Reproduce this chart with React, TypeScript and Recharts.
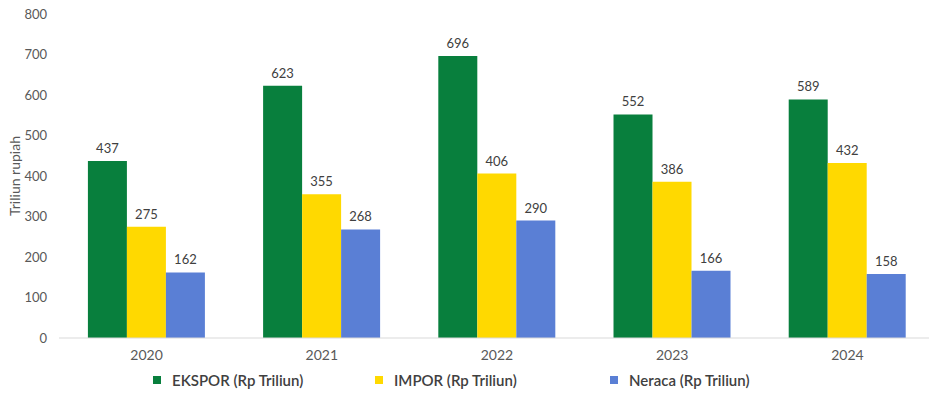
import { BarChart, Bar, XAxis, YAxis, Legend, LabelList } from 'recharts';

const years = ['2020', '2021', '2022', '2023', '2024'];
const ekspor = [437, 623, 696, 552, 589];
const impor = [275, 355, 406, 386, 432];
const neraca = [162, 268, 290, 166, 158];
const yTicks = [0, 100, 200, 300, 400, 500, 600, 700, 800];

const data = years.map((year, i) => ({
  year,
  ekspor: ekspor[i],
  impor: impor[i],
  neraca: neraca[i],
}));

const FONT = 'Lato, "Liberation Sans", sans-serif';

const legendPos: Record<string, number> = {
  'EKSPOR (Rp Triliun)': 153,
  'IMPOR (Rp Triliun)': 375,
  'Neraca (Rp Triliun)': 610,
};

function LegendBox(props: any) {
  const items = props.payload || [];
  return (
    <div style={{ position: 'relative', height: 26, width: 929, fontFamily: FONT, fontSize: 15, fontWeight: 600, color: '#404040' }}>
      {items.map((it: any) => (
        <div
          key={it.value}
          style={{ position: 'absolute', left: legendPos[it.value] ?? 0, top: 3, display: 'flex', alignItems: 'center' }}
        >
          <span style={{ display: 'inline-block', width: 8, height: 8, background: it.color, marginRight: 11 }} />
          <span>{it.value}</span>
        </div>
      ))}
    </div>
  );
}

export default function App() {
  return (
    <div style={{ position: 'absolute', left: 0, top: 0, width: 929, height: 402, overflow: 'hidden', background: '#fff' }}>
      <BarChart
        width={935}
        height={402}
        data={data}
        margin={{ top: 14, right: 0, bottom: 8, left: 0 }}
        barCategoryGap="16.5%"
        barGap={0}
        style={{ fontFamily: FONT }}
      >
        <XAxis
          dataKey="year"
          height={30}
          tickLine={false}
          axisLine={{ stroke: '#d9d9d9' }}
          tick={{ fill: '#595959', fontSize: 14 }}
          tickMargin={6}
        />
        <YAxis
          width={59}
          domain={[0, 800]}
          ticks={yTicks}
          axisLine={false}
          tickLine={false}
          tick={{ fill: '#595959', fontSize: 13 }}
          tickMargin={6}
          label={{
            value: 'Triliun rupiah',
            angle: -90,
            position: 'insideLeft',
            offset: 15,
            style: { textAnchor: 'middle', fill: '#595959', fontSize: 14 },
          }}
        />
        <Legend verticalAlign="bottom" height={26} content={<LegendBox />} />
        <Bar dataKey="ekspor" name="EKSPOR (Rp Triliun)" fill="#087f3d" isAnimationActive={false}>
          <LabelList dataKey="ekspor" position="top" offset={8} style={{ fill: '#404040', fontSize: 13 }} />
        </Bar>
        <Bar dataKey="impor" name="IMPOR (Rp Triliun)" fill="#ffd900" isAnimationActive={false}>
          <LabelList dataKey="impor" position="top" offset={8} style={{ fill: '#404040', fontSize: 13 }} />
        </Bar>
        <Bar dataKey="neraca" name="Neraca (Rp Triliun)" fill="#5a7fd5" isAnimationActive={false}>
          <LabelList dataKey="neraca" position="top" offset={8} style={{ fill: '#404040', fontSize: 13 }} />
        </Bar>
      </BarChart>
    </div>
  );
}
